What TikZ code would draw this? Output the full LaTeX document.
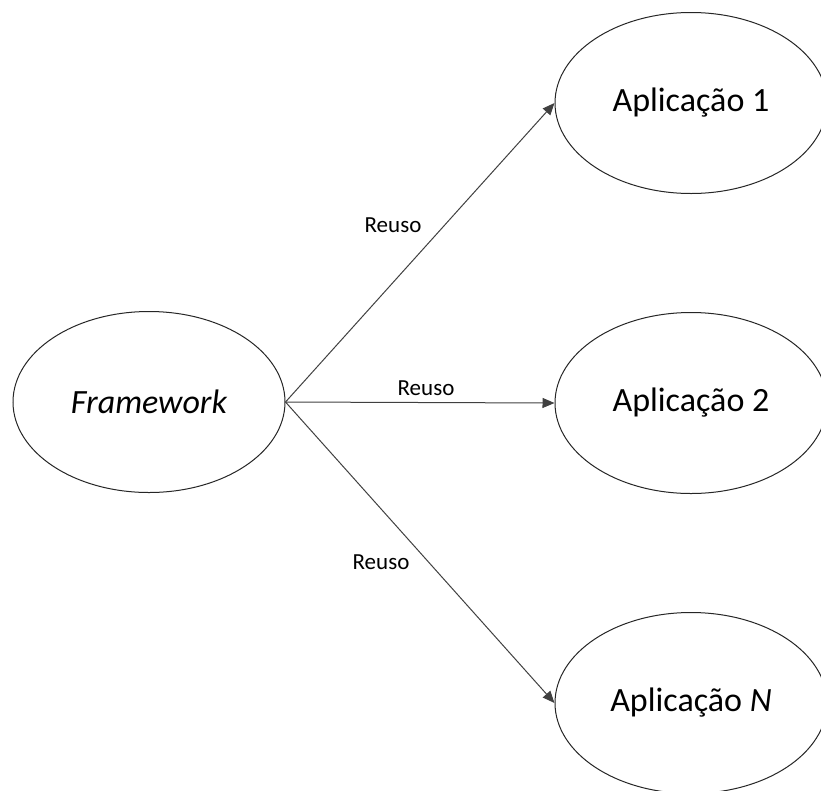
\documentclass[tikz,border=0pt]{standalone}
\usepackage{fontspec}
\setmainfont{Carlito}
\usetikzlibrary{shapes.geometric,arrows.meta}
\begin{document}
\begin{tikzpicture}[x=1pt,y=-1pt,
  oval/.style={draw=black!85,line width=1pt,ellipse,fill=white,
    minimum width=272pt,minimum height=181pt,inner sep=0pt,font=\fontsize{34}{37}\selectfont},
  reuse/.style={draw=black!75,line width=1pt,-{Triangle[length=12pt,width=10pt]}},
  lbl/.style={font=\fontsize{23}{25}\selectfont,inner sep=0pt}]
  \useasboundingbox (0,0) rectangle (821,790);
  \node[oval] (fw) at (149,402) {\itshape Framework};
  \node[oval] (a1) at (691,103) {Aplicação 1};
  \node[oval] (a2) at (691,403) {Aplicação 2};
  \node[oval] (an) at (691,703) {Aplicação \textit{N}};
  \draw[reuse] (fw.east) -- (a1.west);
  \draw[reuse] (fw.east) -- (a2.west);
  \draw[reuse] (fw.east) -- (an.west);
  \node[lbl] (r1) at (393,225) {Reuso};
  \node[lbl] (r2) at (426,388) {Reuso};
  \node[lbl] (r3) at (381,562) {Reuso};
\end{tikzpicture}
\end{document}
